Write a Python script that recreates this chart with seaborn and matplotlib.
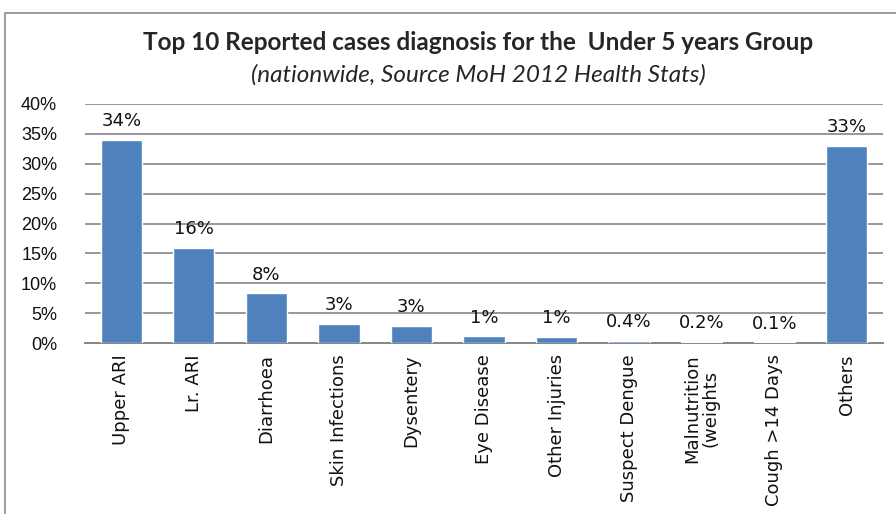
import matplotlib
matplotlib.use("Agg")
import matplotlib.pyplot as plt
import seaborn as sns
import pandas as pd
from matplotlib.patches import Rectangle
from matplotlib.ticker import FuncFormatter, MultipleLocator

categories = ["Upper ARI", "Lr. ARI", "Diarrhoea", "Skin Infections", "Dysentery",
              "Eye Disease", "Other Injuries", "Suspect Dengue",
              "Malnutrition\n(weights", "Cough >14 Days", "Others"]
shares = [34.0, 15.9, 8.3, 3.2, 2.9, 1.1, 1.0, 0.4, 0.2, 0.1, 33.0]
value_labels = ["34%", "16%", "8%", "3%", "3%", "1%", "1%", "0.4%", "0.2%", "0.1%", "33%"]

df = pd.DataFrame({"diagnosis": categories, "share": [s / 100 for s in shares]})

sns.set_style("white")
plt.rcParams["font.family"] = ["DejaVu Sans"]

fig = plt.figure(figsize=(8.96, 5.14), dpi=100)
W, H = 896, 514

# chart frame
fig.patches.append(Rectangle((5 / W, -0.05), 1.2, (H - 13) / H + 0.05,
                             transform=fig.transFigure, fill=False,
                             edgecolor="#8c8c8c", linewidth=1.2))

ax = fig.add_axes([85 / W, (H - 343) / H, (883 - 85) / W, (343 - 104) / H])
sns.barplot(data=df, x="diagnosis", y="share", color="#4f81bd", width=0.57,
            saturation=1, ax=ax, zorder=3)

ax.set_ylim(0, 0.40)
ax.yaxis.set_major_locator(MultipleLocator(0.05))
ax.yaxis.set_major_formatter(FuncFormatter(lambda v, _: f"{v * 100:.0f}%"))
ax.grid(axis="y", color="#868686", linewidth=1.2, zorder=0)
ax.set_axisbelow(True)
for side in ["left", "right", "top"]:
    ax.spines[side].set_visible(False)
ax.spines["bottom"].set_color("#868686")
ax.spines["bottom"].set_linewidth(1.4)
ax.set_xlabel("")
ax.set_ylabel("")
ax.tick_params(axis="y", length=0, pad=20)
ax.tick_params(axis="x", length=0, pad=8)
for lbl in ax.get_yticklabels():
    lbl.set_fontfamily("Liberation Sans")
    lbl.set_fontsize(13)
    lbl.set_color("#111111")
for lbl in ax.get_xticklabels():
    lbl.set_fontsize(13)
    lbl.set_color("#111111")
    lbl.set_linespacing(1.0)
plt.setp(ax.get_xticklabels(), rotation=90, ha="center", va="top",
         multialignment="center")

for patch, text in zip(ax.patches, value_labels):
    ax.annotate(text, (patch.get_x() + patch.get_width() / 2, patch.get_height()),
                xytext=(0, 7), textcoords="offset points", ha="center", va="bottom",
                fontsize=13, color="#111111")

fig.text(478 / W, 1 - 42 / H, "Top 10 Reported cases diagnosis for the  Under 5 years Group",
         ha="center", va="center", fontsize=17.5, fontweight="bold", fontfamily="Lato")
fig.text(478 / W, 1 - 75 / H, "(nationwide, Source MoH 2012 Health Stats)",
         ha="center", va="center", fontsize=17.5, fontstyle="italic", fontfamily="Lato")

fig.savefig("out.png", dpi=100)
